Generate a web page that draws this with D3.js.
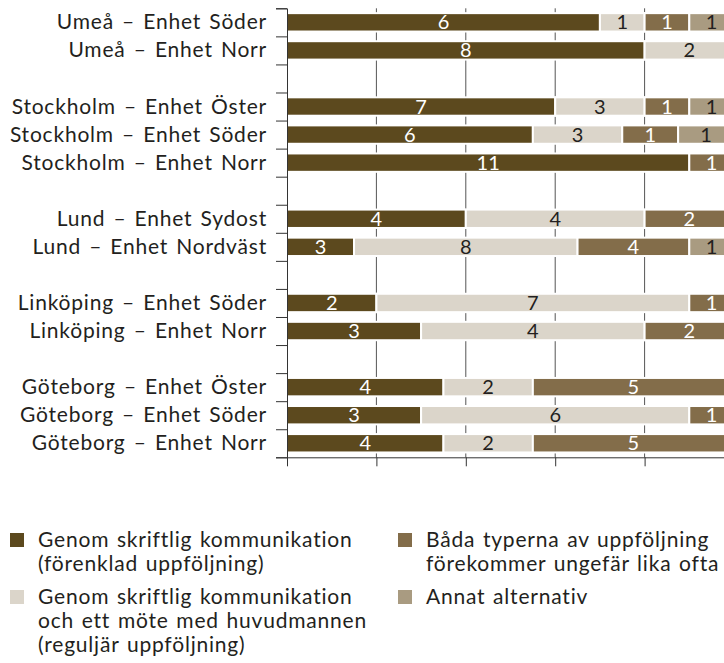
<!DOCTYPE html>
<html>
<head>
<meta charset="utf-8">
<script src="https://cdn.jsdelivr.net/npm/d3@7"></script>
<style>
  body { margin: 0; background: #fff; }
  svg { display: block; font-family: Lato, "Open Sans", sans-serif; }
</style>
</head>
<body>
<script>
// rows top to bottom, null = empty row between the cities
var categories = [
  "Umeå – Enhet Söder", "Umeå – Enhet Norr", null,
  "Stockholm – Enhet Öster", "Stockholm – Enhet Söder", "Stockholm – Enhet Norr", null,
  "Lund – Enhet Sydost", "Lund – Enhet Nordväst", null,
  "Linköping – Enhet Söder", "Linköping – Enhet Norr", null,
  "Göteborg – Enhet Öster", "Göteborg – Enhet Söder", "Göteborg – Enhet Norr"
];

// counts written in the bars
var forenklad = [6, 8, 7, 6, 11, 4, 3, 2, 3, 4, 3, 4];
var reguljar  = [1, 2, 3, 3, 0, 4, 8, 7, 4, 2, 6, 2];
var bada      = [1, 0, 1, 1, 1, 2, 4, 1, 2, 5, 1, 5];
var annat     = [1, 0, 1, 1, 0, 0, 1, 0, 0, 0, 0, 0];

// share of the bar (percent)
var forenkladPct = [70, 80, 60, 55, 90, 40, 15, 20, 30, 35, 30, 35];
var reguljarPct  = [10, 20, 20, 20, 0, 40, 50, 70, 50, 20, 60, 20];
var badaPct      = [10, 0, 10, 12.5, 10, 20, 25, 10, 20, 45, 10, 45];
var annatPct     = [10, 0, 10, 12.5, 0, 0, 10, 0, 0, 0, 0, 0];

var xTicks = [0, 20, 40, 60, 80, 100];

var seriesNames = [
  ["Genom skriftlig kommunikation", "(förenklad uppföljning)"],
  ["Genom skriftlig kommunikation", "och ett möte med huvudmannen", "(reguljär uppföljning)"],
  ["Båda typerna av uppföljning", "förekommer ungefär lika ofta"],
  ["Annat alternativ"]
];
var colors = ["#5c491e", "#dbd5ca", "#836d4a", "#a99b81"];
var labelColors = ["#fff", "#231f20", "#fff", "#231f20"];

var width = 724, height = 663;
var svg = d3.select("body").append("svg").attr("width", width).attr("height", height);

var keys = ["f", "r", "b", "a"];
var counts = [forenklad, reguljar, bada, annat];
var pcts = [forenkladPct, reguljarPct, badaPct, annatPct];

var rows = [];
var k = 0;
categories.forEach(function(c, i) {
  if (c === null) return;
  var row = { key: "r" + i, name: c, idx: k };
  keys.forEach(function(s, j) { row[s] = pcts[j][k]; });
  rows.push(row);
  k++;
});
var rowKeys = categories.map(function(c, i) { return "r" + i; });

var plotTop = 8.3, plotBottom = 457.3, plotLeft = 287;
var x = d3.scaleLinear().domain([0, 100]).range([plotLeft, 734]);
var pad = 0.345;
var y = d3.scaleBand().domain(rowKeys).range([plotTop, plotBottom]).paddingInner(pad).paddingOuter(pad / 2);
var yIdx = d3.scaleLinear().domain([0, categories.length]).range([plotTop, plotBottom]);

// grid
svg.append("g").selectAll("line")
  .data(xTicks.slice(1, -1))
  .enter().append("line")
  .attr("x1", function(d) { return x(d); }).attr("x2", function(d) { return x(d); })
  .attr("y1", plotTop).attr("y2", plotBottom)
  .attr("stroke", "#555").attr("stroke-width", 1);

var stack = d3.stack().keys(keys)(rows);

var layers = svg.append("g").selectAll("g")
  .data(stack)
  .enter().append("g")
  .attr("fill", function(d, i) { return colors[i]; });

layers.selectAll("rect")
  .data(function(d) { return d.filter(function(s) { return s[1] > s[0]; }); })
  .enter().append("rect")
  .attr("x", function(d) { return x(d[0]); })
  .attr("width", function(d) { return x(d[1]) - x(d[0]); })
  .attr("y", function(d) { return y(d.data.key); })
  .attr("height", y.bandwidth())
  .attr("stroke", "#fff").attr("stroke-width", 2);

stack.forEach(function(layer, j) {
  svg.append("g").selectAll("text")
    .data(layer.filter(function(s) { return counts[j][s.data.idx] > 0; }))
    .enter().append("text")
    .attr("x", function(d) { return (x(d[0]) + x(d[1])) / 2; })
    .attr("y", function(d) { return y(d.data.key) + y.bandwidth() / 2 + 7; })
    .attr("text-anchor", "middle")
    .attr("fill", labelColors[j])
    .style("font-size", "20px")
    .text(function(d) { return counts[j][d.data.idx]; });
});

// left axis: ticks between rows
svg.append("g")
  .attr("transform", "translate(" + plotLeft + ",0)")
  .call(d3.axisLeft(yIdx).ticks(categories.length).tickSize(11).tickFormat(""))
  .call(function(g) {
    g.select(".domain").attr("stroke", "#333");
    g.selectAll(".tick line").attr("stroke", "#333");
  });

// bottom axis
svg.append("g")
  .attr("transform", "translate(0," + plotBottom + ")")
  .call(d3.axisBottom(x).tickValues(xTicks).tickSize(9).tickSizeOuter(0).tickFormat(""))
  .call(function(g) {
    g.select(".domain").attr("stroke", "#333");
    g.selectAll(".tick line").attr("stroke", "#333");
  });

// category labels
svg.append("g").selectAll("text")
  .data(rows)
  .enter().append("text")
  .attr("x", 267)
  .attr("y", function(d) { return y(d.key) + y.bandwidth() / 2 + 7; })
  .attr("text-anchor", "end")
  .attr("fill", "#231f20")
  .style("font-size", "21px")
  .style("letter-spacing", "0.8px")
  .style("word-spacing", "2px")
  .text(function(d) { return d.name; });

// legend
var legendPos = [[10, 547], [10, 604], [398, 547], [398, 604]];
var lg = svg.append("g").selectAll("g")
  .data(seriesNames)
  .enter().append("g")
  .attr("transform", function(d, i) { return "translate(" + legendPos[i][0] + "," + legendPos[i][1] + ")"; });

lg.append("rect")
  .attr("x", 0).attr("y", -14).attr("width", 14).attr("height", 14)
  .attr("fill", function(d, i) { return colors[i]; });

lg.append("text")
  .attr("fill", "#231f20")
  .style("font-size", "21px")
  .style("letter-spacing", "0.8px")
  .style("word-spacing", "1.5px")
  .selectAll("tspan")
  .data(function(d) { return d; })
  .enter().append("tspan")
  .attr("x", 28)
  .attr("y", function(d, i) { return i * 24; })
  .text(function(d) { return d; });
</script>
</body>
</html>
